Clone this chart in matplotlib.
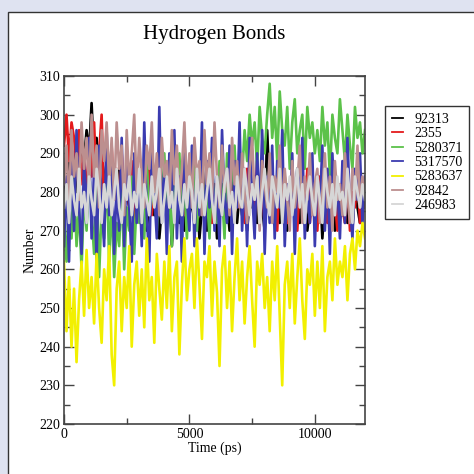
import numpy as np
import matplotlib
matplotlib.use("Agg")
import matplotlib.pyplot as plt
from matplotlib.patches import Rectangle
from matplotlib.ticker import MultipleLocator

plt.rcParams['font.family'] = ['Liberation Serif', 'DejaVu Serif']

# Hydrogen bonds per ligand, one value every 100 ps
labels = ["92313", "2355", "5280371", "5317570", "5283637", "92842", "246983"]
colors = ["#000000", "#e41a1c", "#5cc24a", "#3b3bb0", "#f2f000", "#bc8f8f", "#d6d6d6"]

hb_92313 = [284, 278, 288, 282, 290, 280, 286, 292, 288, 296, 290,
            303, 288, 294, 284, 292, 280, 288, 276, 284, 282,
            278, 286, 274, 282, 280, 276, 284, 272, 280, 278,
            276, 282, 270, 278, 284, 274, 280, 268, 276, 282,
            274, 280, 266, 278, 284, 272, 276, 270, 282, 274,
            278, 272, 280, 268, 276, 282, 270, 278, 274, 280,
            268, 276, 282, 272, 278, 270, 284, 276, 272, 280,
            274, 282, 270, 278, 276, 284, 272, 280, 276, 270,
            296, 280, 286, 274, 282, 272, 278, 284, 270, 276,
            280, 274, 286, 272, 278, 282, 270, 276, 280, 274,
            272, 282, 268, 278, 284, 274, 280, 270, 276, 282,
            274, 280, 272, 278, 270, 284, 276, 272, 280, 276]

hb_2355 = [292, 300, 288, 298, 294, 286, 296, 282, 290, 278, 294,
           284, 298, 280, 290, 300, 276, 288, 282, 292, 278,
           286, 274, 290, 280, 284, 276, 288, 272, 282, 278,
           284, 276, 280, 288, 274, 282, 278, 286, 276, 280,
           274, 284, 278, 292, 280, 276, 286, 274, 282, 278,
           286, 276, 282, 274, 288, 280, 276, 284, 272, 282,
           278, 286, 274, 282, 276, 290, 278, 274, 284, 276,
           280, 272, 286, 278, 282, 274, 288, 276, 280, 272,
           278, 284, 274, 280, 270, 286, 276, 282, 272, 278,
           284, 276, 270, 282, 278, 274, 286, 272, 280, 276,
           270, 284, 276, 280, 272, 286, 274, 278, 270, 282,
           276, 272, 284, 270, 280, 276, 286, 272, 280, 276]

hb_5280371 = [272, 262, 278, 268, 284, 266, 276, 260, 280, 270, 286,
              274, 264, 282, 258, 276, 268, 286, 262, 278, 258,
              272, 266, 282, 260, 276, 270, 284, 264, 278, 272,
              282, 268, 288, 274, 278, 286, 270, 284, 276, 290,
              272, 280, 266, 286, 278, 290, 272, 282, 268, 284,
              276, 288, 270, 282, 292, 274, 280, 268, 286, 278,
              272, 288, 280, 268, 290, 276, 284, 292, 278, 286,
              284, 296, 288, 300, 292, 298, 286, 302, 294, 290,
              300, 308, 294, 302, 288, 306, 296, 292, 302, 286,
              298, 304, 290, 296, 300, 286, 302, 294, 298, 290,
              296, 288, 302, 292, 298, 284, 300, 294, 290, 304,
              296, 288, 300, 292, 286, 302, 294, 298, 290, 296]

hb_5317570 = [266, 284, 262, 290, 270, 296, 276, 264, 288, 272, 294,
              268, 286, 262, 292, 278, 266, 296, 274, 288, 264,
              282, 270, 294, 266, 288, 276, 262, 290, 272, 284,
              266, 298, 274, 262, 292, 280, 268, 302, 272, 286,
              264, 290, 276, 296, 268, 284, 262, 294, 278, 270,
              292, 266, 286, 274, 298, 264, 288, 276, 294, 270,
              284, 266, 296, 278, 272, 292, 264, 288, 276, 298,
              270, 286, 266, 294, 280, 268, 290, 274, 296, 264,
              284, 272, 292, 268, 288, 276, 296, 266, 282, 274,
              290, 264, 286, 278, 294, 268, 282, 272, 290, 266,
              284, 276, 292, 270, 286, 264, 290, 274, 282, 268,
              288, 272, 294, 276, 268, 286, 278, 290, 272, 284]

hb_5283637 = [262, 244, 258, 240, 255, 236, 252, 262, 248, 265, 250,
              258, 246, 264, 250, 241, 260, 252, 266, 238, 230,
              255, 262, 244, 258, 250, 266, 240, 256, 262, 248,
              260, 245, 268, 252, 258, 241, 264, 255, 247, 262,
              250, 266, 244, 258, 262, 238, 256, 268, 252, 260,
              264, 250, 268, 256, 242, 262, 258, 266, 248, 262,
              254, 235, 260, 266, 250, 262, 244, 258, 268, 252,
              262, 246, 258, 266, 252, 240, 262, 256, 264, 250,
              258, 244, 262, 252, 266, 248, 230, 256, 262, 250,
              264, 246, 258, 268, 252, 242, 260, 256, 264, 248,
              262, 250, 266, 244, 258, 262, 252, 268, 256, 262,
              258, 266, 252, 264, 268, 260, 270, 266, 272, 268]

hb_92842 = [282, 292, 276, 296, 284, 290, 278, 298, 286, 294, 280,
            300, 284, 292, 276, 296, 288, 298, 282, 294, 278,
            298, 286, 292, 274, 296, 282, 290, 300, 280, 294,
            284, 276, 292, 286, 298, 280, 290, 274, 294, 284,
            288, 276, 296, 282, 292, 278, 286, 298, 280, 290,
            276, 294, 284, 288, 274, 296, 282, 290, 278, 298,
            284, 276, 292, 280, 286, 274, 294, 282, 288, 276,
            290, 280, 272, 286, 294, 278, 284, 270, 288, 282,
            276, 290, 272, 284, 280, 292, 274, 286, 278, 270,
            288, 276, 282, 292, 272, 284, 278, 290, 274, 282,
            286, 272, 280, 290, 276, 284, 270, 288, 278, 282,
            274, 290, 280, 272, 286, 278, 292, 276, 284, 280]

hb_246983 = [276, 282, 272, 284, 278, 274, 286, 276, 280, 272, 284,
             278, 274, 286, 280, 272, 282, 276, 284, 274, 280,
             286, 276, 272, 282, 278, 284, 274, 280, 276, 286,
             272, 282, 278, 274, 284, 276, 280, 286, 272, 278,
             284, 276, 280, 272, 286, 278, 274, 282, 276, 284,
             280, 272, 286, 276, 282, 274, 280, 286, 278, 272,
             284, 278, 274, 282, 286, 276, 280, 272, 284, 278,
             276, 286, 280, 274, 282, 278, 284, 272, 280, 286,
             278, 274, 284, 280, 276, 286, 272, 282, 278, 284,
             274, 280, 286, 276, 282, 272, 280, 284, 278, 274,
             284, 278, 272, 286, 280, 276, 282, 274, 284, 278,
             280, 274, 286, 278, 272, 284, 280, 276, 282, 278]

series = [hb_92313, hb_2355, hb_5280371, hb_5317570, hb_5283637, hb_92842, hb_246983]

fig = plt.figure(figsize=(4.74, 4.74), dpi=100)
fig.patch.set_facecolor("#dfe3f1")
# white panel behind the graph
panel = Rectangle((8 / 474, -0.01), 1.0, 1 - 12 / 474 + 0.01,
                  transform=fig.transFigure, facecolor="white",
                  edgecolor="#333333", linewidth=1.0, zorder=-5)
fig.patches.append(panel)

ax = fig.add_axes([64 / 474, 1 - 424 / 474, 301 / 474, 348 / 474])
ax.set_zorder(2)
for vals, c, lab in zip(series, colors, labels):
    t = np.linspace(0, 12000, len(vals))
    ax.plot(t, vals, color=c, lw=1.9, label=lab)

ax.set_xlim(0, 12000)
ax.set_ylim(220, 310)
ax.xaxis.set_major_locator(MultipleLocator(5000))
ax.xaxis.set_minor_locator(MultipleLocator(2500))
ax.yaxis.set_major_locator(MultipleLocator(10))
ax.yaxis.set_minor_locator(MultipleLocator(5))
ax.tick_params(which='both', direction='in', top=True, right=True,
               color="#444444", labelsize=10, width=1.0)
ax.tick_params(which='major', length=7)
ax.tick_params(which='minor', length=4)
ax.tick_params(axis='x', pad=3)
ax.tick_params(axis='y', pad=3)
for sp in ax.spines.values():
    sp.set_color("#444444")
    sp.set_linewidth(1.2)

ax.set_xlabel("Time (ps)", fontsize=10, labelpad=0)
ax.set_ylabel("Number", fontsize=10, labelpad=2)
fig.text(214 / 474, 1 - 34 / 474, "Hydrogen Bonds", fontsize=15,
         ha='center', va='center', zorder=3)

leg = ax.legend(loc='upper left', bbox_to_anchor=(378 / 474, 1 - 99 / 474),
                bbox_transform=fig.transFigure, fontsize=10, handlelength=0.8,
                labelspacing=0.1, borderpad=0.5, handletextpad=0.8,
                fancybox=False, framealpha=1)
leg.get_frame().set_edgecolor("#333333")
leg.get_frame().set_linewidth(1.0)
for line in leg.get_lines():
    line.set_linewidth(1.3)

plt.savefig("out.png", dpi=100, facecolor=fig.get_facecolor())
